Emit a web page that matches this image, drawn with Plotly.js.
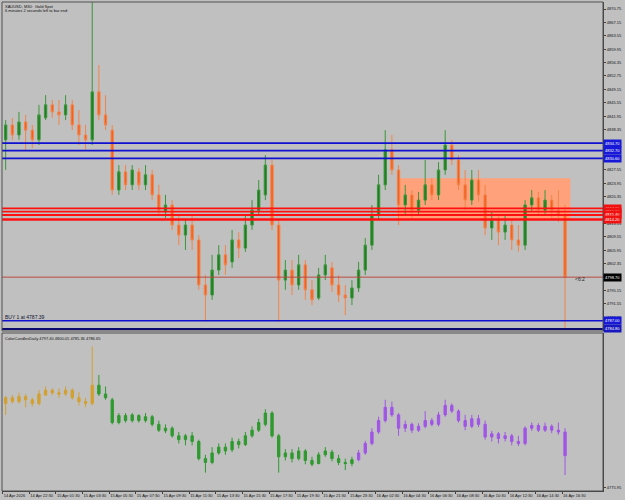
<!DOCTYPE html>
<html><head><meta charset="utf-8">
<script src="https://cdn.plot.ly/plotly-3.0.1.min.js"></script>
<style>html,body{margin:0;padding:0;background:#C0C0C0;overflow:hidden}#chart{width:625px;height:500px;}</style>
</head><body><div id="chart"></div>
<script>
const timeLabels = ["14 Apr 2026","14 Apr 22:30","15 Apr 01:30","15 Apr 03:30","15 Apr 05:30","15 Apr 07:30","15 Apr 09:30","15 Apr 11:30","15 Apr 13:30","15 Apr 15:30","15 Apr 17:30","15 Apr 19:30","15 Apr 21:30","15 Apr 23:30","16 Apr 02:30","16 Apr 04:30","16 Apr 06:30","16 Apr 08:30","16 Apr 10:30","16 Apr 12:30","16 Apr 14:30","16 Apr 16:30"];
const openP = [4835.6,4839.6,4836.9,4840.4,4838.2,4835.6,4841.5,4845.0,4843.1,4842.3,
4845.0,4839.6,4836.9,4835.6,4848.5,4842.3,4838.2,4822.1,4827.0,4823.5,
4827.0,4823.5,4826.2,4820.8,4816.2,4818.1,4812.7,4810.0,4812.7,4808.7,
4796.6,4793.9,4800.6,4804.7,4802.8,4808.7,4806.5,4812.7,4816.7,4820.8,
4828.8,4812.7,4797.9,4800.6,4796.6,4802.0,4795.3,4793.1,4799.3,4801.2,
4796.6,4793.9,4793.1,4795.8,4800.6,4807.3,4815.4,4823.5,4832.9,4827.5,
4818.1,4820.8,4816.7,4819.4,4823.5,4820.8,4827.5,4834.2,4830.2,4823.5,
4819.4,4824.8,4820.8,4811.9,4814.1,4810.8,4812.7,4808.7,4807.3,4818.1,
4820.0,4816.7,4819.4,4816.7,4815.4];
const highP = [4840.9,4841.5,4843.1,4842.3,4839.6,4845.0,4847.6,4846.3,4846.3,4847.6,
4846.3,4843.6,4839.6,4875.9,4855.7,4847.6,4839.6,4828.8,4828.8,4828.8,
4828.0,4828.8,4827.5,4823.5,4820.8,4819.4,4815.4,4814.1,4815.4,4810.0,
4799.3,4804.7,4807.3,4807.3,4811.4,4810.8,4815.4,4819.4,4824.8,4831.5,
4830.2,4814.1,4803.3,4803.3,4804.7,4803.3,4797.9,4801.2,4804.7,4802.8,
4799.3,4796.6,4797.9,4802.8,4809.2,4818.1,4826.2,4838.2,4836.9,4828.8,
4823.5,4822.1,4821.6,4830.2,4825.3,4829.6,4838.2,4835.6,4831.5,4827.5,
4827.5,4827.5,4823.5,4816.2,4815.4,4815.4,4814.1,4812.7,4819.4,4822.1,
4821.6,4822.1,4820.8,4822.1,4818.1];
const lowP = [4827.5,4835.6,4835.6,4832.9,4833.4,4834.2,4840.9,4841.5,4839.6,4840.9,
4838.2,4834.2,4832.9,4834.2,4840.9,4838.2,4820.8,4820.8,4822.1,4822.1,
4822.1,4822.1,4819.4,4815.4,4814.6,4811.4,4807.3,4806.0,4806.0,4795.3,
4786.7,4792.6,4799.3,4799.3,4801.2,4803.8,4805.5,4811.4,4815.4,4819.4,
4811.4,4786.7,4795.3,4793.9,4795.3,4792.6,4791.2,4792.6,4797.9,4794.7,
4792.0,4788.5,4791.2,4794.7,4799.3,4806.0,4814.1,4822.1,4826.2,4812.7,
4815.4,4814.6,4815.4,4818.1,4819.4,4819.4,4826.2,4828.8,4822.1,4816.7,
4818.1,4818.9,4810.0,4808.7,4807.3,4808.7,4806.0,4805.5,4806.0,4816.2,
4815.4,4815.4,4814.6,4813.5,4785.0];
const closeP = [4839.6,4836.9,4840.4,4838.2,4835.6,4842.3,4845.0,4843.1,4842.3,4845.0,
4839.6,4836.9,4835.6,4848.5,4842.3,4839.6,4822.1,4827.0,4823.5,4827.5,
4823.5,4826.2,4820.8,4816.7,4818.1,4812.7,4810.0,4812.7,4808.7,4796.6,
4793.9,4800.6,4804.7,4802.0,4808.7,4806.5,4812.7,4816.7,4822.1,4828.8,
4812.7,4797.9,4800.6,4796.6,4802.0,4795.3,4792.6,4799.3,4802.0,4796.6,
4793.9,4793.1,4795.8,4800.6,4807.3,4815.4,4823.5,4832.9,4827.5,4818.1,
4820.8,4816.7,4819.4,4823.5,4820.8,4827.5,4834.2,4830.2,4823.5,4819.4,
4824.8,4820.8,4811.9,4814.1,4810.8,4812.7,4808.7,4807.3,4818.1,4820.0,
4816.7,4819.4,4816.7,4815.4,4798.7];
const priceTicks = [4870.75,4867.15,4863.55,4859.95,4856.35,4852.75,4849.15,4845.55,4841.95,4838.35,4834.75,4831.15,4827.55,4823.95,4820.35,4816.75,4813.15,4809.55,4805.95,4802.35,4798.75,4795.15,4791.55,4787.95];
const lowerTicks = [4775.95];
const blueLevels = [4834.7, 4832.7, 4830.6, 4787.0];
const navyLevels = [4784.8];
const redLevels = [4817.2, 4816.3, 4815.4, 4814.2];
const bidLevel = 4798.7;
const zonePrices = [4814.1, 4825.3];
const zoneBars = [58.8, 84.8];
const dayStarts = [0, 14, 53];   // bar index where each day colour of the lower window begins
const headerLines = ["XAUUSD, M30:  Gold Spot", "6 minutes 2 seconds left to bar end"];
const lowerTitle = "ColorCandlesDaily 4797.40 4800.05 4785.36 4786.65";
const orderText = "BUY 1 at 4787.39";
const timerText = "<6:2";

const idx = openP.map((_, i) => i);
const FONT = "Liberation Sans, Arial, sans-serif";
const mainDom = [0.3272, 1], lowDom = [0, 0.3231];

const traces = [{
  type: 'candlestick', x: idx, open: openP, high: highP, low: lowP, close: closeP,
  xaxis: 'x', yaxis: 'y', hoverinfo: 'skip', whiskerwidth: 0,
  increasing: {line: {color: '#3A963A', width: 1}, fillcolor: '#1E7D1E'},
  decreasing: {line: {color: '#F2844A', width: 1}, fillcolor: '#F45F1E'}
}];
const dayColors = ['#D2A030', '#2E9A2E', '#A055E6'];
dayStarts.forEach((s, k) => {
  const e = k + 1 < dayStarts.length ? dayStarts[k + 1] : openP.length;
  const c = dayColors[k];
  traces.push({
    type: 'candlestick', x: idx.slice(s, e), open: openP.slice(s, e), high: highP.slice(s, e),
    low: lowP.slice(s, e), close: closeP.slice(s, e), xaxis: 'x', yaxis: 'y2', hoverinfo: 'skip', whiskerwidth: 0,
    increasing: {line: {color: c, width: 1}, fillcolor: c},
    decreasing: {line: {color: c, width: 1}, fillcolor: c}
  });
});

const shapes = [];
const annotations = [];
shapes.push({type: 'rect', layer: 'below', xref: 'x', yref: 'y', x0: zoneBars[0], x1: zoneBars[1], y0: zonePrices[0], y1: zonePrices[1], fillcolor: '#FFA27C', line: {width: 0}});
function hline(v, color, w) {
  shapes.push({type: 'line', xref: 'paper', yref: 'y', x0: 0, x1: 1, y0: v, y1: v, line: {color: color, width: w}});
}
function plabel(v, bg) {
  annotations.push({xref: 'paper', yref: 'y', x: 1, y: v, xanchor: 'left', yanchor: 'middle', text: v.toFixed(2),
    showarrow: false, bgcolor: bg, borderpad: 1, font: {family: FONT, size: 4, color: '#FFFFFF'}});
}
blueLevels.forEach(v => { hline(v, '#1010D0', 1.6); plabel(v, '#1818D8'); });
navyLevels.forEach(v => { hline(v, '#0A0A70', 2); plabel(v, '#1818C0'); });
redLevels.forEach((v, k) => { hline(v, '#FF1010', k === redLevels.length - 1 ? 2.6 : 1.8); plabel(v, '#F01010'); });
hline(bidLevel, '#B84A40', 1); plabel(bidLevel, '#000000');
shapes.push({type: 'rect', xref: 'paper', yref: 'paper', x0: 0, x1: 1, y0: mainDom[0], y1: mainDom[1], line: {color: '#505050', width: 1}});
shapes.push({type: 'rect', xref: 'paper', yref: 'paper', x0: 0, x1: 1, y0: lowDom[0], y1: lowDom[1], line: {color: '#505050', width: 1}});

headerLines.forEach((t, k) => annotations.push({xref: 'paper', yref: 'paper', x: 0.002, y: 1 - k * 0.0085, xanchor: 'left', yanchor: 'top',
  text: t, showarrow: false, font: {family: FONT, size: 4, color: '#101010'}}));
annotations.push({xref: 'paper', yref: 'paper', x: 0.002, y: lowDom[1] - 0.002, xanchor: 'left', yanchor: 'top', text: lowerTitle,
  showarrow: false, font: {family: FONT, size: 4, color: '#101010'}});
annotations.push({xref: 'paper', yref: 'y', x: 0.002, y: blueLevels[3] + 0.9, xanchor: 'left', yanchor: 'middle', text: orderText,
  showarrow: false, font: {family: FONT, size: 5, color: '#101030'}});
annotations.push({xref: 'x', yref: 'y', x: 85.2, y: bidLevel - 0.5, xanchor: 'left', yanchor: 'middle', text: timerText,
  showarrow: false, font: {family: FONT, size: 5, color: '#202020'}});

const axFont = {family: FONT, size: 4, color: '#101010'};
const layout = {
  width: 625, height: 500,
  margin: {l: 2, r: 22, t: 2, b: 9, pad: 0},
  paper_bgcolor: '#C0C0C0', plot_bgcolor: '#C0C0C0',
  showlegend: false, boxmode: 'overlay', boxgap: 0.5,
  xaxis: {range: [-0.55, 89.7], anchor: 'y2', rangeslider: {visible: false}, showgrid: false, zeroline: false,
    tickvals: timeLabels.map((_, k) => 4 * k - 0.45), ticktext: timeLabels, ticks: 'outside', ticklen: 2, tickcolor: '#404040',
    tickangle: 0, ticklabelposition: 'outside right', tickfont: axFont, showline: true, linecolor: '#404040', linewidth: 1},
  yaxis: {domain: mainDom, range: [4784.23, 4872.63], side: 'right', anchor: 'x', showgrid: false, zeroline: false,
    tickvals: priceTicks, ticktext: priceTicks.map(v => v.toFixed(2)), ticks: 'outside', ticklen: 2, tickcolor: '#404040',
    tickfont: axFont, showline: true, linecolor: '#404040', linewidth: 1},
  yaxis2: {domain: lowDom, range: [4773.7, 4885.4], side: 'right', anchor: 'x', showgrid: false, zeroline: false,
    tickvals: lowerTicks, ticktext: lowerTicks.map(v => v.toFixed(2)), ticks: 'outside', ticklen: 2, tickcolor: '#404040',
    tickfont: axFont, showline: true, linecolor: '#404040', linewidth: 1},
  shapes: shapes, annotations: annotations
};
Plotly.newPlot('chart', traces, layout, {staticPlot: true, displayModeBar: false});
</script></body></html>
